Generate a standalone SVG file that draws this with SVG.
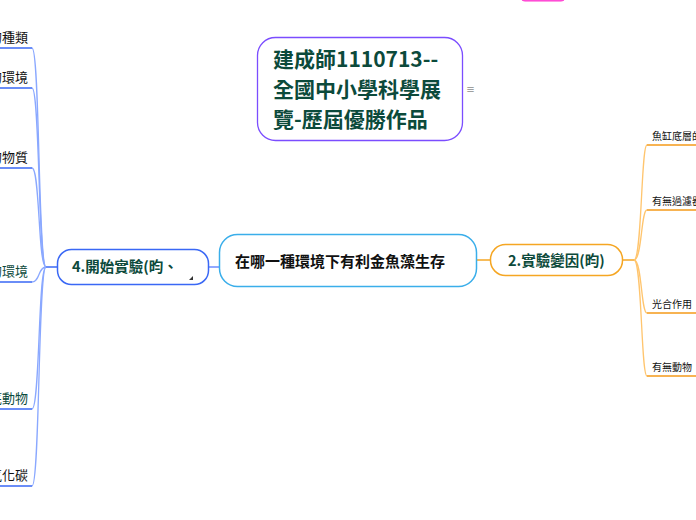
<svg xmlns="http://www.w3.org/2000/svg" width="696" height="520" viewBox="0 0 696 520">
<style>
text{font-family:"Noto Sans CJK TC","Noto Sans",sans-serif}
.title{font-size:21px;font-weight:bold;fill:#0c4a3b}
.main{font-size:15px;font-weight:bold;fill:#111}
.topic{font-size:14.5px;font-weight:bold;fill:#0c4a3b}
.lab{font-size:13px;fill:#111}
.labg{font-size:13px;fill:#0c4a3b}
.rlab{font-size:10px;fill:#111}
.lt{fill:none;stroke:#8aa8ff;stroke-width:1.3}
.lu{fill:none;stroke:#3a68f5;stroke-width:1.5}
.rt{fill:none;stroke:#ffc56e;stroke-width:1.3}
.ru{fill:none;stroke:#f59a1a;stroke-width:1.5}
</style>
<defs>
<clipPath id="clipL"><rect x="57" y="249" width="151" height="32"/></clipPath>
</defs>
<g id="connectors">
<line x1="46" y1="267" x2="57" y2="267" stroke="#3a68f5" stroke-width="1.5"/>
<line x1="208" y1="267" x2="219" y2="267" stroke="#6e8cff" stroke-width="1.5"/>
<line x1="477" y1="260" x2="490" y2="260" stroke="#f5a623" stroke-width="1.5"/>
<line x1="623" y1="260" x2="634" y2="260" stroke="#f5a623" stroke-width="1.5"/>
<path class="lt" d="M46,267 C38,267 40,48 32,48"/>
<path class="lt" d="M46,267 C38,267 40,88 32,88"/>
<path class="lt" d="M46,267 C38,267 40,168 32,168"/>
<path class="lt" d="M46,267 C38,267 40,282 32,282"/>
<path class="lt" d="M46,267 C38,267 40,409 32,409"/>
<path class="lt" d="M46,267 C38,267 40,486 32,486"/>
<path class="lu" d="M-2,48 H32 M-2,88 H32 M-2,168 H32 M-2,282 H32 M-2,409 H32 M-2,486 H32"/>
<path class="rt" d="M634,260 C642,260 641,145 647,145"/>
<path class="rt" d="M634,260 C642,260 641,210 647,210"/>
<path class="rt" d="M634,260 C642,260 641,313 647,313"/>
<path class="rt" d="M634,260 C642,260 641,376 647,376"/>
<path class="ru" d="M647,145 H698 M647,210 H698 M647,313 H698 M647,376 H698"/>
</g>
<g id="topbar">
<rect x="520" y="-20" width="46" height="21" rx="5" fill="#ff66e0" stroke="#ff33cc" stroke-width="1"/>
</g>
<g id="title">
<rect x="257.5" y="37.5" width="205" height="103" rx="18" fill="#fff" stroke="#7b4dff" stroke-width="1.3"/>
<text class="title" x="273" y="67">建成師1110713--</text>
<text class="title" x="273" y="97">全國中小學科學展</text>
<text class="title" x="273" y="127">覽-歷屆優勝作品</text>
<text x="466" y="93" font-size="9" fill="#555">≡</text>
</g>
<g id="center">
<rect x="219.5" y="234.5" width="257" height="52" rx="18" fill="#fff" stroke="#3aaeea" stroke-width="1.5"/>
<text class="main" x="235" y="267">在哪一種環境下有利金魚藻生存</text>
</g>
<g id="node-left">
<rect x="57.5" y="249.5" width="151" height="35" rx="14" fill="#fff" stroke="#3a68f5" stroke-width="1.5"/>
<text class="topic" x="72" y="272" clip-path="url(#clipL)">4.開始實驗(昀、</text>
<polygon points="189,280 193,276 193,280" fill="#333"/>
</g>
<g id="node-right">
<rect x="490.5" y="244.5" width="132" height="31" rx="15" fill="#fff" stroke="#f5a623" stroke-width="1.5"/>
<text class="topic" x="508" y="266">2.實驗變因(昀)</text>
</g>
<g id="left-labels">
<text class="lab" x="28" y="42" text-anchor="end">的種類</text>
<text class="lab" x="28" y="82" text-anchor="end">的環境</text>
<text class="lab" x="28" y="162" text-anchor="end">的物質</text>
<text class="labg" x="28" y="276" text-anchor="end">的環境</text>
<text class="labg" x="28" y="403" text-anchor="end">底動物</text>
<text class="lab" x="28" y="480" text-anchor="end">氧化碳</text>
</g>
<g id="right-labels">
<text class="rlab" x="652" y="140">魚缸底層的</text>
<text class="rlab" x="652" y="205">有無過濾器</text>
<text class="rlab" x="652" y="308">光合作用</text>
<text class="rlab" x="652" y="371">有無動物</text>
</g>
</svg>
